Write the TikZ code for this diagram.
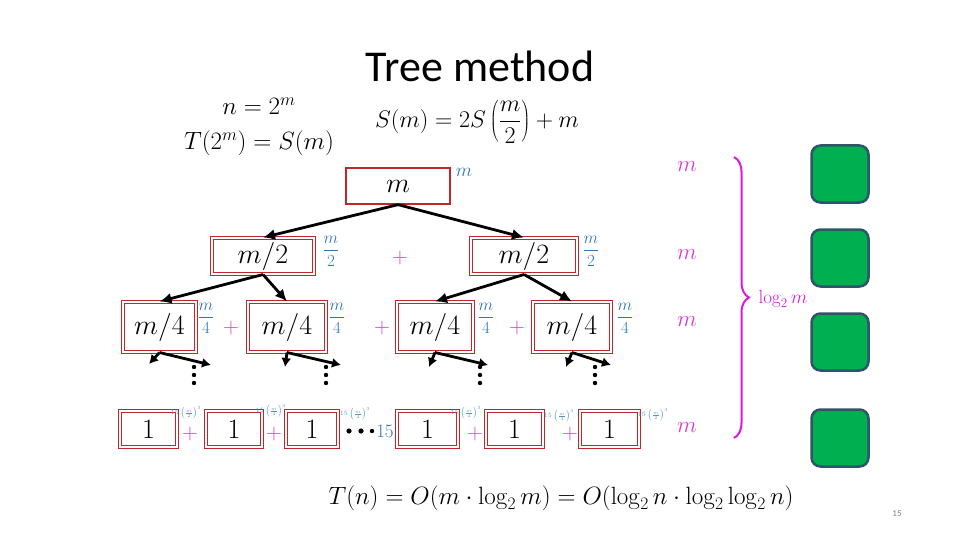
\RequirePackage{fix-cm}
\documentclass[tikz,border=0pt]{standalone}
\usepackage[no-math]{fontspec}
\setmainfont{Carlito}
\usetikzlibrary{arrows.meta,decorations.pathreplacing,positioning}
\definecolor{boxred}{RGB}{192,38,42}
\definecolor{costblue}{RGB}{46,117,182}
\definecolor{plusmag}{RGB}{214,60,204}
\definecolor{bracemag}{RGB}{222,24,222}
\definecolor{slotgreen}{RGB}{0,176,80}
\definecolor{slotedge}{RGB}{47,85,105}
\tikzset{every picture/.style={line width=0.75pt}}
\tikzset{
  cell/.style={draw=boxred,line width=1.3pt,fill=white,inner sep=0pt,font=\fontsize{28}{32}\selectfont},
  dcell/.style={cell,line width=1pt,double=white,double distance=1.4pt},
  call/.style={-{Latex[length=12pt,width=11pt]},line width=2.8pt},
  cost/.style={text=costblue,inner sep=0pt,font=\fontsize{17}{19}\selectfont},
  tinycost/.style={text=costblue!80,inner sep=0pt,font=\fontsize{6.5}{7}\selectfont},
  plus/.style={text=plusmag,inner sep=0pt,font=\fontsize{22}{24}\selectfont},
  levelsum/.style={text=plusmag,font=\fontsize{23}{25}\selectfont},
  eq/.style={inner sep=0pt,font=\fontsize{25}{29}\selectfont},
  slot/.style={draw=slotedge,fill=slotgreen,line width=2.5pt,rounded corners=9pt,minimum size=57pt}
}

\begin{document}
\begin{tikzpicture}[x=1pt,y=-1pt]
    \useasboundingbox (0,0) rectangle (960,540);

    % Title and recurrence
    \node[inner sep=0pt,font=\fontsize{44}{48}\selectfont] (title) at (480,66) {Tree method};
    \node[eq] (subst) at (259,106) {$n=2^m$};
    \node[eq] (rename) at (259,143) {$T(2^m)=S(m)$};
    \node[eq,font=\fontsize{24}{28}\selectfont] (rec) at (477,122) {$S(m)=2S\left(\displaystyle\frac{m}{2}\right)+m$};

    % Root
    \node[cell,minimum width=104pt,minimum height=36pt] (root) at (398,186) {$m$};
    \node[cost,font=\fontsize{19}{21}\selectfont] (croot) at (464,172) {$m$};

    % Level 1
    \node[dcell,minimum width=102pt,minimum height=36pt] (l1a) at (263,256) {$m/2$};
    \node[dcell,minimum width=106pt,minimum height=36pt] (l1b) at (524,256) {$m/2$};
    \node[cost] (c1a) at (331,251) {$\displaystyle\frac{m}{2}$};
    \node[cost] (c1b) at (591,251) {$\displaystyle\frac{m}{2}$};
    \node[plus] (p1) at (400,258) {$+$};
    \draw[call] (root.south) -- (l1a.north);
    \draw[call] (root.south) -- (l1b.north);

    % Level 2
    \foreach \n/\x/\w/\c in {a/159.5/73/206,b/287/78/337,c/435/76/486,d/572/78/625} {
        \node[dcell,minimum width=\w pt,minimum height=50pt] (l2\n) at (\x,327) {$m/4$};
        \node[cost] (c2\n) at (\c,318) {$\displaystyle\frac{m}{4}$};
    }
    \foreach \n/\x in {a/231,b/382,c/517}
        \node[plus] (p2\n) at (\x,328) {$+$};
    \draw[call] (l1a.south) -- (l2a.north);
    \draw[call] (l1a.south) -- (l2b.north);
    \draw[call] (l1b.south) -- (l2c.north);
    \draw[call] (l1b.south) -- (l2d.north);

    % Calls below level 2 (cut short)
    \foreach \n/\lx/\rx/\ly in {a/149/211/364,b/285/341/367,c/429/488/367,d/566/611/367} {
        \coordinate (l3\n L) at (\lx,\ly);
        \coordinate (l3\n R) at (\rx,365);
        \draw[call,-{Latex[length=9pt,width=10pt]}] (l2\n.south) -- (l3\n L);
        \draw[call,-{Latex[length=9pt,width=10pt]}] (l2\n.south) -- (l3\n R);
    }
    \foreach \x in {194,326,480,595}
        \foreach \y in {367,375,383}
            \fill (\x,\y) circle (2.2);

    % Leaves
    \foreach \n/\x/\w in {1/148.5/57,2/234/56,3/312/52,4/427.5/61,5/514.5/57,6/609.5/59}
        \node[dcell,minimum width=\w pt,minimum height=36pt] (leaf\n) at (\x,429) {$1$};
    \foreach \n/\x/\y/\d in {1/186/413/2,2/271/411/4,3/355/414/4,4/466/413/4,5/559/416/4,6/653/415/2}
        \node[tinycost] (cl\n) at (\x,\y) {$15\left(\frac{m}{\d}\right)^3$};
    \foreach \n/\x in {1/190,2/274,3/475,4/570}
        \node[plus] (pl\n) at (\x,434) {$+$};
    \fill (349,431) circle (2.6);
    \fill (361,431) circle (2.6);
    \fill (372,431) circle (2.2);
    \node[text=costblue,font=\fontsize{19}{21}\selectfont] (fifteen) at (385,431) {$15$};

    % Cost per level
    \foreach \n/\y in {1/167,2/255,3/322,4/428}
        \node[levelsum] (sum\n) at (687,\y) {$m$};
    \draw[bracemag,line width=2pt,decorate,decoration={brace,amplitude=15pt}] (734,157) -- (734,438);
    \node[text=bracemag,font=\fontsize{19}{21}\selectfont] (depth) at (783,299) {$\log_2 m$};

    % Green slots
    \foreach \i/\y in {1/174,2/258,3/342,4/438}
        \node[slot] (sq\i) at (840,\y) {};

    % Result
    \node[eq] (result) at (561,498) {$T(n)=O(m\cdot\log_2 m)=O(\log_2 n\cdot\log_2\log_2 n)$};
    \node[text=gray,font=\fontsize{9}{10}\selectfont] (page) at (897,514) {15};
\end{tikzpicture}
\end{document}
